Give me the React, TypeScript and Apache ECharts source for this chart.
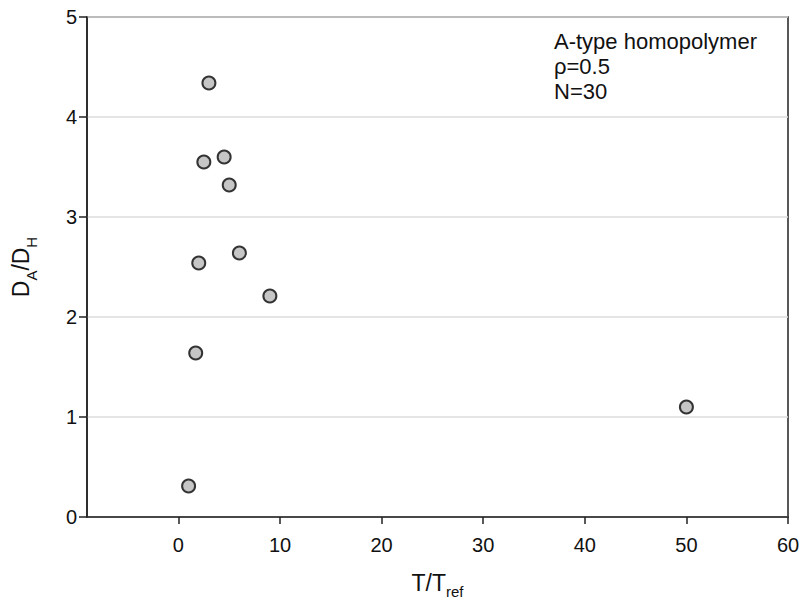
import React, { useEffect, useRef } from "react";
import * as echarts from "echarts";

const xValues = [1, 1.7, 2, 2.5, 3, 4.5, 5, 6, 9, 50];
const yValues = [0.31, 1.64, 2.54, 3.55, 4.34, 3.6, 3.32, 2.64, 2.21, 1.1];
const xTicks = [0, 10, 20, 30, 40, 50, 60];
const annotation = ["A-type homopolymer", "ρ=0.5", "N=30"];

const FONT = "'Liberation Sans', Arial, Helvetica, sans-serif";

export default function App() {
  const ref = useRef<HTMLDivElement>(null);
  useEffect(() => {
    if (!ref.current) return;
    const chart = echarts.init(ref.current, null, { renderer: "svg" });
    chart.setOption({
      animation: false,
      backgroundColor: "#fff",
      textStyle: { fontFamily: FONT },
      grid: {
        left: 87,
        right: 11,
        top: 17,
        bottom: 85,
        outerBoundsMode: "none",
        containLabel: false,
        show: true,
        borderColor: "#222",
        borderWidth: 1.5,
        backgroundColor: "transparent",
      },
      xAxis: {
        type: "value",
        min: -9,
        max: 60,
        name: "{m|T/T}{s|ref}",
        nameLocation: "middle",
        nameGap: 54,
        nameTextStyle: {
          rich: {
            m: { fontSize: 23, color: "#111", fontFamily: FONT, lineHeight: 23, verticalAlign: "top" },
            s: { fontSize: 15, color: "#111", fontFamily: FONT, lineHeight: 28, verticalAlign: "bottom" },
          },
        },
        axisLine: { show: true, onZero: false, lineStyle: { color: "#222", width: 1.5 } },
        axisTick: { show: true, customValues: xTicks, length: 7, lineStyle: { color: "#222", width: 1.5 } },
        axisLabel: { customValues: xTicks, fontSize: 20, color: "#111", margin: 18, fontFamily: FONT },
        splitLine: { show: false },
      },
      yAxis: {
        type: "value",
        min: 0,
        max: 5,
        interval: 1,
        name: "{m|D}{s|A}{m|/D}{s|H}",
        nameLocation: "middle",
        nameGap: 48,
        nameRotate: 90,
        nameTextStyle: {
          rich: {
            m: { fontSize: 23, color: "#111", fontFamily: FONT, lineHeight: 24, verticalAlign: "top" },
            s: { fontSize: 15, color: "#111", fontFamily: FONT, lineHeight: 30, verticalAlign: "bottom" },
          },
        },
        axisLine: { show: true, onZero: false, lineStyle: { color: "#222", width: 1.5 } },
        axisTick: { show: true, length: 8, lineStyle: { color: "#222", width: 1.5 } },
        axisLabel: { fontSize: 20, color: "#111", margin: 10, fontFamily: FONT },
        splitLine: { show: true, lineStyle: { color: "#ddd", width: 1.5 } },
      },
      graphic: [
        {
          type: "text",
          left: 554,
          top: 29,
          style: {
            text: annotation.join("\n"),
            fontSize: 22,
            lineHeight: 25,
            fill: "#111",
            fontFamily: FONT,
          },
        },
      ],
      series: [
        {
          type: "scatter",
          data: xValues.map((x, i) => [x, yValues[i]]),
          symbol: "circle",
          symbolSize: 13,
          itemStyle: { color: "#c6c6c6", borderColor: "#333", borderWidth: 2, opacity: 1 },
          z: 5,
        },
      ],
    });
    return () => chart.dispose();
  }, []);
  return <div ref={ref} style={{ width: 799, height: 602, position: "absolute", left: 0, top: 0 }} />;
}
